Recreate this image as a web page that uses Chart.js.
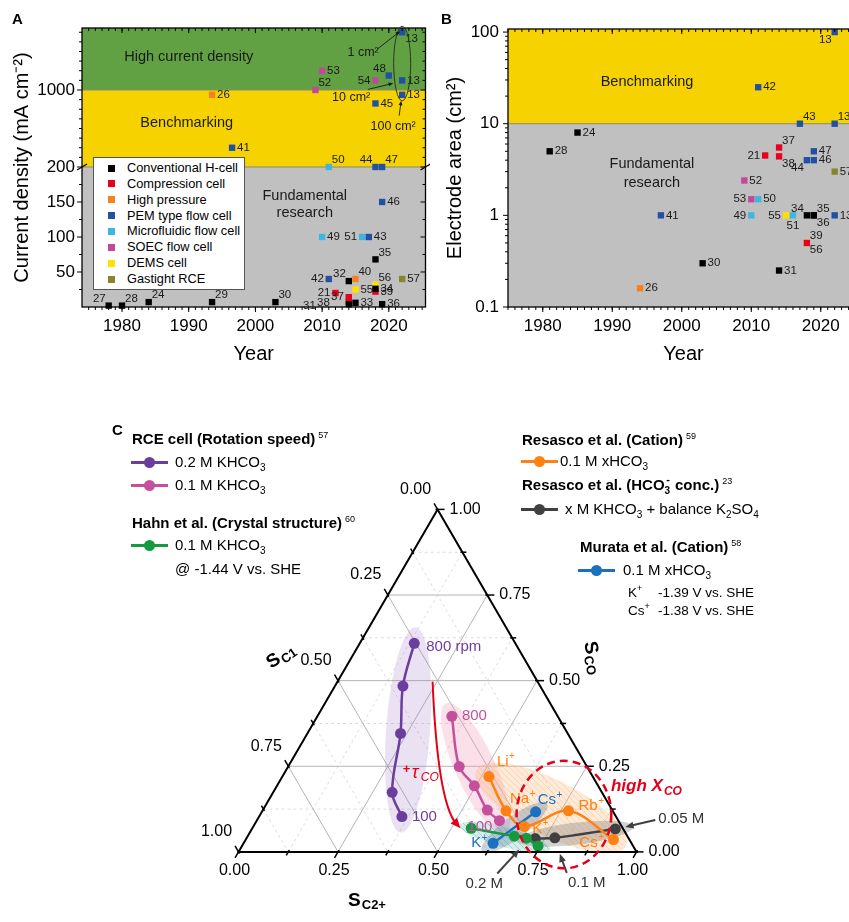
<!DOCTYPE html>
<html lang="en">
<head>
<meta charset="UTF-8">
<title>CO2 electrolysis cells</title>
<script src="https://cdn.jsdelivr.net/npm/chart.js@4.4.1/dist/chart.umd.min.js"></script>
<style>
  body { margin:0; width:849px; height:922px; overflow:hidden; position:relative; background:#fff; font-family:"Liberation Sans", Arial, sans-serif; color:#000; }
  canvas { position:absolute; display:block; }
  #cA { left:0; top:0; }
  #cB { left:430px; top:0; }
  #cC { left:100px; top:400px; }
  .t { position:absolute; white-space:nowrap; line-height:18px; transform:translateY(-50%); }
  .panel { font-weight:bold; font-size:15px; }
  .lgA { position:absolute; left:93px; top:157px; width:150px; height:131px; background:#fff; border:1px solid #555; }
  .lgA .row { position:absolute; left:0; font-size:12.8px; line-height:16px; height:16px; transform:translateY(-50%); white-space:nowrap; }
  .lgA .sq { position:absolute; left:14px; top:4.5px; width:7px; height:7px; }
  .lgA .lab { position:absolute; left:33px; top:0; }
  .hd { font-weight:bold; font-size:15px; }
  .hd sup.ref { font-weight:normal; font-size:9px; vertical-align:6px; margin-left:3px; line-height:0; }
  .it { font-size:15px; }
  .sm { font-size:13.5px; }
  sub { font-size:10px; vertical-align:-4px; line-height:0; }
  sup.ion { font-size:9px; vertical-align:6px; line-height:0; }
  sup.minus { font-size:11px; vertical-align:7px; line-height:0; margin-left:-4px; margin-right:1px; }
  .mk { position:absolute; width:37px; height:3px; margin-top:-1.5px; background:var(--c); }
  .mk::after { content:''; position:absolute; left:13px; top:-4px; width:11px; height:11px; border-radius:50%; background:var(--c); }
</style>
</head>
<body>
<canvas id="cA" width="430" height="370"></canvas>
<canvas id="cB" width="440" height="370"></canvas>
<canvas id="cC" width="749" height="522"></canvas>

<div class="t panel" style="left:12px;top:19px">A</div>
<div class="t panel" style="left:441px;top:19px">B</div>
<div class="t panel" style="left:112px;top:430px">C</div>
<div class="lgA" id="legendA"></div>

<div class="t hd" style="left:132px;top:439px">RCE cell (Rotation speed)<sup class="ref">57</sup></div>
<div class="mk" style="left:131px;top:462px;--c:#6b3d9e"></div>
<div class="t it" style="left:175px;top:462px">0.2 M KHCO<sub>3</sub></div>
<div class="mk" style="left:131px;top:485px;--c:#c4509c"></div>
<div class="t it" style="left:175px;top:485px">0.1 M KHCO<sub>3</sub></div>
<div class="t hd" style="left:132px;top:523px">Hahn et al. (Crystal structure)<sup class="ref">60</sup></div>
<div class="mk" style="left:131px;top:545px;--c:#169a40"></div>
<div class="t it" style="left:175px;top:545px">0.1 M KHCO<sub>3</sub></div>
<div class="t it" style="left:175px;top:569px">@ -1.44 V vs. SHE</div>

<div class="t hd" style="left:522px;top:440px">Resasco et al. (Cation)<sup class="ref">59</sup></div>
<div class="mk" style="left:521px;top:461px;--c:#ff8013"></div>
<div class="t it" style="left:560px;top:461px">0.1 M xHCO<sub>3</sub></div>
<div class="t hd" style="left:522px;top:485px">Resasco et al. (HCO<sub>3</sub><sup class="minus">-</sup> conc.)<sup class="ref">23</sup></div>
<div class="mk" style="left:521px;top:509px;--c:#404040"></div>
<div class="t it" style="left:565px;top:509px">x M KHCO<sub>3</sub> + balance K<sub>2</sub>SO<sub>4</sub></div>
<div class="t hd" style="left:580px;top:547px">Murata et al. (Cation)<sup class="ref">58</sup></div>
<div class="mk" style="left:578px;top:570px;--c:#1b70c0"></div>
<div class="t it" style="left:623px;top:570px">0.1 M xHCO<sub>3</sub></div>
<div class="t sm" style="left:628px;top:593px">K<sup class="ion">+</sup></div>
<div class="t sm" style="left:658px;top:593px">-1.39 V vs. SHE</div>
<div class="t sm" style="left:628px;top:611px">Cs<sup class="ion">+</sup></div>
<div class="t sm" style="left:658px;top:611px">-1.38 V vs. SHE</div>

<script>
const FF = '"Liberation Sans", Arial, Helvetica, sans-serif';
const H = Math.sqrt(3) / 2;

// ---------- panels A and B: cell types ----------
const cellTypes = ['Conventional H-cell', 'Compression cell', 'High pressure', 'PEM type flow cell',
                   'Microfluidic flow cell', 'SOEC flow cell', 'DEMS cell', 'Gastight RCE'];
const cellColors = ['#000000', '#e8001c', '#f7801e', '#2150a5', '#3fb6df', '#c3479b', '#ffe000', '#86862c'];

// panel A: current density (mA cm-2) vs year
const refsA    = [13, 53, 52, 48, 54, 13, 13, 26, 45, 41, 50, 44, 47, 46, 49, 51, 43, 35, 42, 32, 40, 56, 34, 39, 55, 21, 31, 38, 37, 33, 36, 57, 27, 28, 24, 29, 30];
const yearsA   = [2022, 2010, 2009, 2020, 2018, 2022, 2022, 1993.5, 2018, 1996.5, 2011, 2018, 2019, 2019, 2010, 2016, 2017, 2018, 2011, 2014, 2015, 2018, 2018, 2018, 2015, 2012, 2014, 2014, 2014, 2015, 2019, 2022, 1978, 1980, 1984, 1993.5, 2003];
const currentA = [1600, 1200, 1000, 1150, 1100, 1100, 950, 950, 860, 400, 200, 200, 200, 150, 100, 100, 100, 68, 40, 37, 40, 32, 26, 22, 25, 20, 4, 8, 14, 6, 4, 40, 2, 2, 7, 7, 7];
const cellA    = [3, 5, 5, 3, 5, 3, 3, 2, 3, 3, 4, 3, 3, 3, 4, 4, 3, 0, 3, 0, 2, 6, 0, 1, 6, 1, 0, 1, 1, 0, 0, 7, 0, 0, 0, 0, 0];
const sideA    = ['br','r','tr','tl','l','r','r','r','r','r','tr','tl','tr','r','r','l','r','tr','l','tl','tr','tr','r','r','r','l','l3','l2','l','r','r','r','tl','tr','tr','tr','tr'];
const yTicksA  = [50, 100, 150, 200, 1000];

// panel B: electrode area (cm2) vs year
const refsB  = [13, 42, 43, 13, 24, 28, 21, 37, 38, 47, 44, 46, 57, 52, 53, 50, 49, 41, 55, 51, 34, 35, 36, 13, 39, 56, 30, 31, 26];
const yearsB = [2022, 2011, 2017, 2022, 1985, 1981, 2012, 2014, 2014, 2019, 2018, 2019, 2022, 2009, 2010, 2011, 2010, 1997, 2015, 2016, 2018, 2019, 2019, 2022, 2018, 2018, 2003, 2014, 1994];
const areaB  = [100, 25, 10, 10, 8, 5, 4.5, 5.5, 4.4, 5, 4, 4, 3, 2.4, 1.5, 1.5, 1, 1, 1, 1, 1, 1, 1, 1, 0.5, 0.5, 0.3, 0.25, 0.16];
const cellB  = [3, 3, 3, 3, 0, 0, 1, 1, 1, 3, 3, 3, 7, 5, 5, 4, 4, 3, 6, 4, 0, 0, 0, 3, 1, 6, 0, 0, 2];
const sideB  = ['bl','r','tr','tr','r','r','l','tr','br','r','bl','r','r','r','l','r','l','r','l','b','tl','tr','br','r','tr','br','r','r','r'];
const yTicksB = [0.1, 1, 10, 100];
const yearTicks = [1980, 1990, 2000, 2010, 2020];

// ---------- panel C: ternary selectivity (S_CO, S_C2+; S_C1 = rest) ----------
const rce02CO = [0.609, 0.484, 0.346, 0.174, 0.103];
const rce02C2 = [0.137, 0.171, 0.234, 0.299, 0.359];
const rce01CO = [0.396, 0.249, 0.193, 0.122, 0.091];
const rce01C2 = [0.338, 0.430, 0.496, 0.564, 0.610];
const cations = ['Li', 'Na', 'K', 'Rb', 'Cs'];
const resascoCO = [0.220, 0.120, 0.074, 0.120, 0.036];
const resascoC2 = [0.519, 0.612, 0.681, 0.769, 0.924];
const hahnCO = [0.069, 0.046, 0.040, 0.017];
const hahnC2 = [0.550, 0.670, 0.703, 0.744];
const concLabels = ['0.2 M', '0.1 M', '0.05 M'];
const concCO = [0.039, 0.041, 0.067];
const concC2 = [0.726, 0.774, 0.913];
const murataIons = ['K', 'Cs'];
const murataCO = [0.025, 0.117];
const murataC2 = [0.627, 0.688];
const ternTicks = [0, 0.25, 0.5, 0.75, 1];

// ---------- helpers ----------
const SIDES = { r:[5,0,'left'], l:[-5,0,'right'], tr:[3,-7,'left'], tl:[-3,-7,'right'], br:[3,7,'left'],
                bl:[-3,8,'right'], t:[0,-9,'center'], b:[0,10,'center'], l2:[-19,1,'right'], l3:[-33,2,'right'] };

function seg(ctx, x1, y1, x2, y2) { ctx.beginPath(); ctx.moveTo(x1, y1); ctx.lineTo(x2, y2); ctx.stroke(); }

function arrow(ctx, x1, y1, x2, y2, head, color, lw) {
  const a = Math.atan2(y2 - y1, x2 - x1);
  ctx.save(); ctx.strokeStyle = color; ctx.fillStyle = color; ctx.lineWidth = lw;
  seg(ctx, x1, y1, x2 - Math.cos(a) * head * 0.7, y2 - Math.sin(a) * head * 0.7);
  ctx.beginPath(); ctx.moveTo(x2, y2);
  ctx.lineTo(x2 - head * Math.cos(a - 0.4), y2 - head * Math.sin(a - 0.4));
  ctx.lineTo(x2 - head * Math.cos(a + 0.4), y2 - head * Math.sin(a + 0.4));
  ctx.closePath(); ctx.fill(); ctx.restore();
}

function frameTicks(chart, xMaj, xMin, yMaj, yMin) {
  const { ctx, chartArea: ca, scales: { x, y } } = chart;
  ctx.save(); ctx.strokeStyle = '#000'; ctx.lineWidth = 1.3;
  ctx.strokeRect(ca.left, ca.top, ca.right - ca.left, ca.bottom - ca.top);
  ctx.lineWidth = 1;
  const xt = (v, len) => { const p = x.getPixelForValue(v); seg(ctx, p, ca.bottom, p, ca.bottom + len); seg(ctx, p, ca.top, p, ca.top + len); };
  const yt = (v, len) => { const p = y.getPixelForValue(v); seg(ctx, ca.left - len, p, ca.left, p); seg(ctx, ca.right - len, p, ca.right, p); };
  xMaj.forEach(v => xt(v, 5)); xMin.forEach(v => xt(v, 3));
  yMaj.forEach(v => yt(v, 5)); yMin.forEach(v => yt(v, 3));
  ctx.restore();
}

function drawRefs(chart) {
  const ctx = chart.ctx;
  ctx.save(); ctx.font = '11.5px ' + FF; ctx.fillStyle = '#1a1a1a'; ctx.textBaseline = 'middle';
  chart.data.datasets.forEach((ds, k) => {
    chart.getDatasetMeta(k).data.forEach((el, j) => {
      const p = ds.data[j]; const [dx, dy, al] = SIDES[p.side];
      ctx.textAlign = al; ctx.fillText(String(p.ref), el.x + dx, el.y + dy);
    });
  });
  ctx.restore();
}

function regionText(chart, items) {
  const { ctx, scales: { x, y } } = chart;
  ctx.save(); ctx.font = '14.5px ' + FF; ctx.fillStyle = '#1a1a1a'; ctx.textAlign = 'center'; ctx.textBaseline = 'middle';
  items.forEach(([t, xv, yv]) => ctx.fillText(t, x.getPixelForValue(xv), y.getPixelForValue(yv)));
  ctx.restore();
}

function buildSets(refs, years, vals, cells, sides) {
  return cellTypes.map((name, k) => ({
    label: name,
    data: refs.map((r, i) => ({ x: years[i], y: vals[i], ref: r, side: sides[i] })).filter((p, i) => cells[i] === k),
    pointStyle: 'rect', pointRadius: 4.5, pointHoverRadius: 4.5, borderWidth: 0,
    backgroundColor: cellColors[k], borderColor: cellColors[k], clip: false
  }));
}

const range = (a, b, s) => { const r = []; for (let v = a; v <= b + 1e-9; v += s) r.push(+v.toFixed(4)); return r; };

// broken axis: linear up to 200, compressed linear above
const BREAK_AT = 200, SQUEEZE = 0.1375;
class BrokenScale extends Chart.LinearScale {
  static id = 'broken';
  static defaults = Chart.LinearScale.defaults;
  fold(v) { return v <= BREAK_AT ? v : BREAK_AT + (v - BREAK_AT) * SQUEEZE; }
  unfold(d) { return d <= BREAK_AT ? d : BREAK_AT + (d - BREAK_AT) / SQUEEZE; }
  getPixelForValue(v) { const a = this.fold(this.min), b = this.fold(this.max); return this.getPixelForDecimal((this.fold(v) - a) / (b - a)); }
  getValueForPixel(p) { const a = this.fold(this.min), b = this.fold(this.max); return this.unfold(a + this.getDecimalForPixel(p) * (b - a)); }
}
Chart.register(BrokenScale);

const axisX = (min, max) => ({
  type: 'linear', min, max,
  afterBuildTicks: s => { s.ticks = yearTicks.map(v => ({ value: v })); },
  afterFit: s => { s.height = 63; },
  grid: { display: false, drawTicks: false }, border: { display: false },
  ticks: { font: { size: 17, family: FF }, color: '#000', padding: 9, autoSkip: false, maxRotation: 0, callback: v => String(v) },
  title: { display: true, text: 'Year', color: '#000', font: { size: 20, family: FF }, padding: { top: 4, bottom: 4 } }
});

// ---------- chart A ----------
const plugA = {
  id: 'plugA',
  beforeDraw(chart) {
    const { ctx, chartArea: ca, scales: { y } } = chart;
    const y1000 = y.getPixelForValue(1000), y200 = y.getPixelForValue(200), w = ca.right - ca.left;
    ctx.save();
    ctx.fillStyle = '#61a043'; ctx.fillRect(ca.left, ca.top, w, y1000 - ca.top);
    ctx.fillStyle = '#f6d300'; ctx.fillRect(ca.left, y1000, w, y200 - y1000);
    ctx.fillStyle = '#c0c0c0'; ctx.fillRect(ca.left, y200, w, ca.bottom - y200);
    ctx.strokeStyle = '#8a8a6a'; ctx.lineWidth = 1;
    seg(ctx, ca.left, y1000, ca.right, y1000); seg(ctx, ca.left, y200, ca.right, y200);
    ctx.restore();
  },
  afterDraw(chart) {
    const { ctx, chartArea: ca, scales: { y } } = chart;
    frameTicks(chart, yearTicks, range(1975, 2025, 1), yTicksA,
      [25, 75, 125, 175].concat(range(300, 900, 100), range(1100, 1600, 100)));
    const yb = y.getPixelForValue(200);
    ctx.save(); ctx.strokeStyle = '#000'; ctx.lineWidth = 1.2;
    [ca.left, ca.right].forEach(xx => seg(ctx, xx - 5, yb + 3, xx + 5, yb - 3));
    ctx.restore();
    regionText(chart, [['High current density', 1990, 1343], ['Benchmarking', 1989.7, 657],
                       ['Fundamental', 2007.4, 158], ['research', 2007.4, 134]]);
    drawRefs(chart);
    // the three scale-up points of ref 13
    const pem = chart.data.datasets[3].data, meta = chart.getDatasetMeta(3).data;
    const p13 = pem.map((p, j) => p.ref === 13 ? meta[j] : null).filter(Boolean).sort((a, b) => a.y - b.y);
    const top = p13[0], bot = p13[p13.length - 1];
    ctx.save(); ctx.strokeStyle = '#2d3a1c'; ctx.lineWidth = 1;
    ctx.beginPath(); ctx.ellipse(top.x, (top.y + bot.y) / 2, 8.5, (bot.y - top.y) / 2 + 6, 0, 0, Math.PI * 2); ctx.stroke();
    ctx.font = '12.5px ' + FF; ctx.fillStyle = '#1a1a1a'; ctx.textAlign = 'center'; ctx.textBaseline = 'middle';
    const notes = [['1 cm\u00B2', 0, -39, 20, -25, 17, -2, -1], ['10 cm\u00B2', 1, -51, 17, -34, 9, -9, 3], ['100 cm\u00B2', 2, -9, 32, -3, 21, -1, 6]];
    notes.forEach(([t, k, tx, ty, ax, ay, bx, by]) => {
      const p = p13[k];
      ctx.fillText(t, p.x + tx, p.y + ty);
      arrow(ctx, p.x + ax, p.y + ay, p.x + bx, p.y + by, 5, '#1a1a1a', 0.9);
    });
    ctx.restore();
  }
};

new Chart(document.getElementById('cA'), {
  type: 'scatter',
  data: { datasets: buildSets(refsA, yearsA, currentA, cellA, sideA) },
  options: {
    responsive: false, animation: false, events: [],
    layout: { padding: { left: 0, top: 28, right: 3, bottom: 0 } },
    plugins: { legend: { display: false }, tooltip: { enabled: false } },
    scales: {
      x: axisX(1974, 2025.5),
      y: {
        type: 'broken', min: 0, max: 1644,
        afterBuildTicks: s => { s.ticks = yTicksA.map(v => ({ value: v })); },
        afterFit: s => { s.width = 82; },
        grid: { display: false, drawTicks: false }, border: { display: false },
        ticks: { font: { size: 17, family: FF }, color: '#000', padding: 7, autoSkip: false, callback: v => String(v) },
        title: { display: true, text: 'Current density (mA cm\u207B\u00B2)', color: '#000', font: { size: 20, family: FF }, padding: { top: 10, bottom: 10 } }
      }
    }
  },
  plugins: [plugA]
});

// ---------- chart B ----------
const logMinor = [];
[0.1, 1, 10].forEach(d => { for (let m = 2; m <= 9; m++) logMinor.push(+(d * m).toFixed(3)); });

const plugB = {
  id: 'plugB',
  beforeDraw(chart) {
    const { ctx, chartArea: ca, scales: { y } } = chart;
    const y10 = y.getPixelForValue(10), w = ca.right - ca.left;
    ctx.save();
    ctx.fillStyle = '#f6d300'; ctx.fillRect(ca.left, ca.top, w, y10 - ca.top);
    ctx.fillStyle = '#c0c0c0'; ctx.fillRect(ca.left, y10, w, ca.bottom - y10);
    ctx.strokeStyle = '#8a8a6a'; ctx.lineWidth = 1; seg(ctx, ca.left, y10, ca.right, y10);
    ctx.restore();
  },
  afterDraw(chart) {
    frameTicks(chart, yearTicks, range(1975, 2025, 1), yTicksB, logMinor);
    regionText(chart, [['Benchmarking', 1995, 28.4], ['Fundamental', 1995.7, 3.63], ['research', 1995.7, 2.25]]);
    drawRefs(chart);
  }
};

new Chart(document.getElementById('cB'), {
  type: 'scatter',
  data: { datasets: buildSets(refsB, yearsB, areaB, cellB, sideB) },
  options: {
    responsive: false, animation: false, events: [],
    layout: { padding: { left: 0, top: 29, right: 11, bottom: 0 } },
    plugins: { legend: { display: false }, tooltip: { enabled: false } },
    scales: {
      x: axisX(1975, 2025.5),
      y: {
        type: 'logarithmic', min: 0.1, max: 108,
        afterBuildTicks: s => { s.ticks = yTicksB.map(v => ({ value: v })); },
        afterFit: s => { s.width = 78; },
        grid: { display: false, drawTicks: false }, border: { display: false },
        ticks: { font: { size: 17, family: FF }, color: '#000', padding: 9, autoSkip: false, callback: v => String(v) },
        title: { display: true, text: 'Electrode area (cm\u00B2)', color: '#000', font: { size: 20, family: FF }, padding: { top: 13, bottom: 13 } }
      }
    }
  },
  plugins: [plugB]
});

// HTML legend for A
document.getElementById('legendA').innerHTML = cellTypes.map((n, k) =>
  `<div class="row" style="top:${(10 + k * 15.85).toFixed(1)}px"><span class="sq" style="background:${cellColors[k]}"></span><span class="lab">${n}</span></div>`).join('');

// ---------- chart C (ternary) ----------
const ternSeries = [
  { co: rce02CO,   c2: rce02C2,   color: '#6b3d9e', shade: [16, 22, 'rgba(150,110,190,0.20)', null] },
  { co: rce01CO,   c2: rce01C2,   color: '#c4509c', shade: [14, 20, 'rgba(240,140,175,0.28)', null] },
  { co: resascoCO, c2: resascoC2, color: '#ff8013', shade: [14, 28, 'rgba(250,195,140,0.35)', 'rgba(235,140,80,0.22)'] },
  { co: hahnCO,    c2: hahnC2,    color: '#169a40', shade: [12, 10, 'rgba(120,200,190,0.30)', 'rgba(60,150,140,0.3)'] },
  { co: concCO,    c2: concC2,    color: '#404040', shade: [18, 11, 'rgba(110,110,110,0.30)', null] },
  { co: murataCO,  c2: murataC2,  color: '#1b70c0', shade: [14, 11, 'rgba(90,120,150,0.32)', null] }
];
const toXY = (co, c2) => ({ x: c2 + co / 2, y: co * H });

const ternLabels = [
  [0, 0, '800 rpm', '', 12, 4, 'left'], [0, 4, '100', '', 10, 0, 'left'],
  [1, 0, '800', '', 10, 0, 'left'], [1, 4, '100', '', -7, 6, 'right'],
  [2, 0, cations[0], '+', 8, -15, 'left'], [2, 1, cations[1], '+', 4, -12, 'left'], [2, 2, cations[2], '+', 8, 2, 'left'],
  [2, 3, cations[3], '+', 10, -5, 'left'], [2, 4, cations[4], '+', -10, 3, 'right'],
  [5, 0, murataIons[0], '+', -6, 0, 'right'], [5, 1, murataIons[1], '+', 2, -12, 'left']
];
// [point, textDx, textDy, tailDx, tailDy, tipDx, tipDy, align]
const concNotes = [[0, -51, 45, -38, 35, -16, 11, 'center'], [1, 32, 45, 12, 35, 5, 16, 'center'], [2, 43, -10, 40, -9, 10, -2, 'left']];
const highXco = { co: 0.109, c2: 0.763, rx: 0.119, ry: 0.136 };
const tauArrow = { from: [0.497, 0.239], ctrl: [0.146, 0.427], to: [0.069, 0.523], text: [0.231, 0.297] };

function hatch(ctx, color) {
  const c = document.createElement('canvas'); c.width = c.height = 6;
  const g = c.getContext('2d'); g.strokeStyle = color; g.lineWidth = 1;
  g.beginPath(); g.moveTo(0, 0); g.lineTo(6, 6); g.stroke();
  return ctx.createPattern(c, 'repeat');
}

function supText(ctx, base, sup, x, y, align, size) {
  ctx.font = size + 'px ' + FF; const w1 = ctx.measureText(base).width;
  ctx.font = Math.round(size * 0.65) + 'px ' + FF; const w2 = sup ? ctx.measureText(sup).width : 0;
  const x0 = align === 'right' ? x - w1 - w2 : align === 'center' ? x - (w1 + w2) / 2 : x;
  ctx.textAlign = 'left'; ctx.textBaseline = 'middle';
  ctx.font = size + 'px ' + FF; ctx.fillText(base, x0, y);
  if (sup) { ctx.font = Math.round(size * 0.65) + 'px ' + FF; ctx.fillText(sup, x0 + w1 + 0.5, y - 5); }
}

function subTitle(ctx, main, sub, x, y, rot) {
  ctx.save(); ctx.translate(x, y); ctx.rotate(rot);
  ctx.font = 'bold 19px ' + FF; const w1 = ctx.measureText(main).width;
  ctx.font = 'bold 13px ' + FF; const w2 = ctx.measureText(sub).width;
  const x0 = -(w1 + w2) / 2; ctx.textAlign = 'left'; ctx.textBaseline = 'middle'; ctx.fillStyle = '#000';
  ctx.font = 'bold 19px ' + FF; ctx.fillText(main, x0, 0);
  ctx.font = 'bold 13px ' + FF; ctx.fillText(sub, x0 + w1 + 1, 5);
  ctx.restore();
}

const plugC = {
  id: 'tern',
  beforeDatasetsDraw(chart) {
    const { ctx, scales: { x, y } } = chart;
    const P = (co, c2) => ({ x: x.getPixelForValue(c2 + co / 2), y: y.getPixelForValue(co * H) });
    const L = (a, b) => seg(ctx, a.x, a.y, b.x, b.y);
    ctx.save();
    for (let k = 1; k < 8; k++) {
      const c = k / 8, major = k % 2 === 0;
      ctx.strokeStyle = major ? '#b4b4b4' : '#d4d4d4'; ctx.lineWidth = major ? 1 : 0.8; ctx.setLineDash(major ? [] : [3, 3]);
      L(P(c, 0), P(c, 1 - c)); L(P(0, c), P(1 - c, c)); L(P(1 - c, 0), P(0, 1 - c));
    }
    ctx.setLineDash([]);
    ternSeries.forEach((s, i) => {
      const pts = chart.getDatasetMeta(i).data, a = pts[0], b = pts[pts.length - 1];
      const [pad, half, fill, hc] = s.shade;
      const ang = Math.atan2(b.y - a.y, b.x - a.x), len = Math.hypot(b.x - a.x, b.y - a.y) / 2 + pad;
      ctx.beginPath(); ctx.ellipse((a.x + b.x) / 2, (a.y + b.y) / 2, len, half, ang, 0, Math.PI * 2);
      ctx.fillStyle = fill; ctx.fill();
      if (hc) { ctx.fillStyle = hatch(ctx, hc); ctx.fill(); }
    });
    ctx.restore();
  },
  afterDatasetsDraw(chart) {
    const { ctx, scales: { x, y } } = chart;
    const P = (co, c2) => ({ x: x.getPixelForValue(c2 + co / 2), y: y.getPixelForValue(co * H) });
    ctx.save();
    // triangle frame
    const A = P(1, 0), BL = P(0, 0), BR = P(0, 1);
    ctx.strokeStyle = '#000'; ctx.lineWidth = 2;
    ctx.beginPath(); ctx.moveTo(A.x, A.y); ctx.lineTo(BL.x, BL.y); ctx.lineTo(BR.x, BR.y); ctx.closePath(); ctx.stroke();
    ctx.lineWidth = 1.5;
    for (let k = 0; k <= 8; k++) {
      const c = k / 8, len = k % 2 === 0 ? 7 : 4;
      const l = P(1 - c, 0), r = P(c, 1 - c), b = P(0, c);
      seg(ctx, l.x + 1, l.y + 1.7, l.x - 0.5 * len, l.y - H * len);
      seg(ctx, r.x - 2, r.y, r.x + len, r.y);
      seg(ctx, b.x + 1, b.y - 1.7, b.x - 0.5 * len, b.y + H * len);
    }
    ctx.fillStyle = '#000'; ctx.font = '16px ' + FF; ctx.textBaseline = 'middle';
    ternTicks.forEach(s => {
      const t = s.toFixed(2), l = P(1 - s, 0), r = P(s, 1 - s), b = P(0, s);
      ctx.textAlign = 'center'; ctx.fillText(t, l.x - 22, l.y - 20);
      ctx.textAlign = 'left'; ctx.fillText(t, r.x + 12, r.y);
      ctx.textAlign = 'center'; ctx.fillText(t, b.x - 4, b.y + 19);
    });
    subTitle(ctx, 'S', 'C1', BL.x + 42, A.y + 147, -35 * Math.PI / 180);
    subTitle(ctx, 'S', 'CO', BR.x - 44, A.y + 148, 78 * Math.PI / 180);
    subTitle(ctx, 'S', 'C2+', BL.x + 128, BL.y + 49, 0);

    // point labels
    ternLabels.forEach(([si, pi, t, sup, dx, dy, al]) => {
      const el = chart.getDatasetMeta(si).data[pi];
      ctx.fillStyle = ternSeries[si].color; supText(ctx, t, sup, el.x + dx, el.y + dy, al, 15);
    });
    // concentration call-outs
    const gp = chart.getDatasetMeta(4).data;
    concNotes.forEach(([pi, tx, ty, ax, ay, bx, by, al]) => {
      const el = gp[pi];
      arrow(ctx, el.x + ax, el.y + ay, el.x + bx, el.y + by, 9, '#404040', 2);
      ctx.fillStyle = '#333'; ctx.font = '15px ' + FF; ctx.textAlign = al; ctx.textBaseline = 'middle';
      ctx.fillText(concLabels[pi], el.x + tx, el.y + ty);
    });
    // high X_CO zone
    const zc = P(highXco.co, highXco.c2);
    const rx = x.getPixelForValue(highXco.rx) - x.getPixelForValue(0), ry = y.getPixelForValue(0) - y.getPixelForValue(highXco.ry);
    ctx.strokeStyle = '#e3001b'; ctx.lineWidth = 2.5; ctx.setLineDash([8, 5]);
    ctx.beginPath(); ctx.ellipse(zc.x, zc.y, rx, ry, 0, 0, Math.PI * 2); ctx.stroke(); ctx.setLineDash([]);
    ctx.fillStyle = '#e3001b'; ctx.textAlign = 'left'; ctx.textBaseline = 'middle';
    ctx.font = 'italic bold 17px ' + FF; ctx.fillText('high X', zc.x + 47, zc.y - 28);
    const wx = ctx.measureText('high X').width;
    ctx.font = 'italic bold 12px ' + FF; ctx.fillText('CO', zc.x + 48 + wx, zc.y - 23);
    // +tau_CO arrow
    const f = P(...tauArrow.from), c = P(...tauArrow.ctrl), e = P(...tauArrow.to);
    ctx.strokeStyle = '#e3001b'; ctx.lineWidth = 2;
    ctx.beginPath(); ctx.moveTo(f.x, f.y); ctx.quadraticCurveTo(c.x, c.y, e.x - 4, e.y - 4); ctx.stroke();
    const ang = Math.atan2(e.y - c.y, e.x - c.x), hd = 11;
    ctx.beginPath(); ctx.moveTo(e.x, e.y);
    ctx.lineTo(e.x - hd * Math.cos(ang - 0.4), e.y - hd * Math.sin(ang - 0.4));
    ctx.lineTo(e.x - hd * Math.cos(ang + 0.4), e.y - hd * Math.sin(ang + 0.4));
    ctx.closePath(); ctx.fill();
    const tp = P(...tauArrow.text);
    ctx.font = 'bold 13px ' + FF; ctx.fillText('+', tp.x, tp.y - 3);
    ctx.font = 'italic 18px ' + FF; ctx.fillText('\u03C4', tp.x + 9, tp.y);
    ctx.font = 'italic 12px ' + FF; ctx.fillText('CO', tp.x + 18, tp.y + 5);
    ctx.restore();
  }
};

new Chart(document.getElementById('cC'), {
  type: 'scatter',
  data: {
    datasets: ternSeries.map(s => ({
      data: s.co.map((c, i) => toXY(c, s.c2[i])), showLine: true, tension: 0.35, clip: false,
      borderColor: s.color, backgroundColor: s.color, pointBackgroundColor: s.color,
      pointBorderWidth: 0, pointRadius: 5.5, pointHoverRadius: 5.5, borderWidth: 2.5
    }))
  },
  options: {
    responsive: false, animation: false, events: [],
    layout: { padding: 0 },
    plugins: { legend: { display: false }, tooltip: { enabled: false } },
    scales: {
      x: { type: 'linear', display: false, min: -0.33416, max: 1.5198 },
      y: { type: 'linear', display: false, min: -0.16337, max: 1.12871 }
    }
  },
  plugins: [plugC]
});
</script>
</body>
</html>
